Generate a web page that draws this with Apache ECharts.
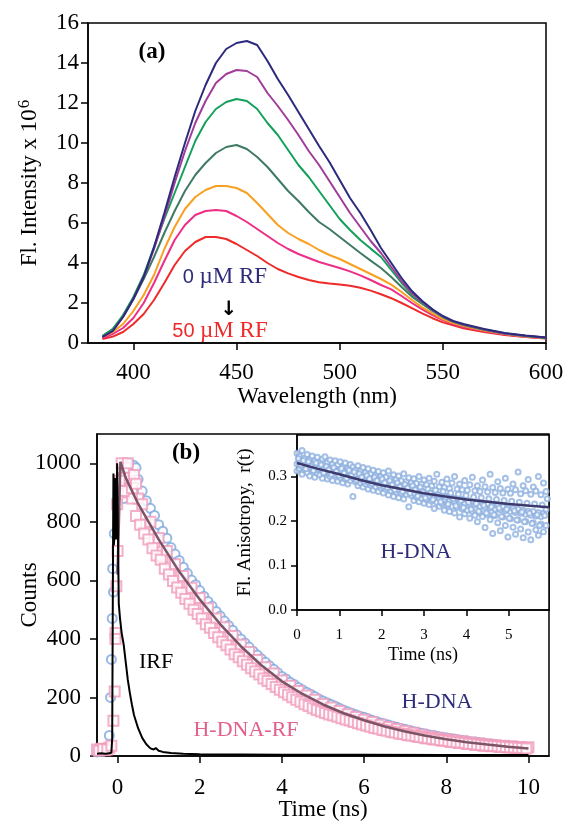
<!DOCTYPE html>
<html>
<head>
<meta charset="utf-8">
<script src="https://cdn.jsdelivr.net/npm/echarts@6/dist/echarts.min.js"></script>
<style>
html,body{margin:0;padding:0;background:#fff;}
#chart{width:565px;height:823px;}
</style>
</head>
<body>
<div id="chart"></div>
<script>
// ---------- Panel (a): emission spectra ----------
const wavelengths = [385,390,395,400,405,410,415,420,425,430,435,440,445,450,455,460,465,470,475,480,485,490,495,500,505,510,515,520,525,530,535,540,545,550,555,560,570,580,590,600];
const rf0  = [0.3,0.6,1.3,2.2,3.3,4.8,6.5,8.3,10.0,11.6,12.9,14.0,14.7,15.0,15.1,14.9,14.1,13.2,12.4,11.55,10.7,9.85,9.05,8.15,7.25,6.5,5.65,4.75,4.0,3.25,2.6,2.1,1.68,1.35,1.1,0.95,0.7,0.5,0.38,0.28];
const rfB  = [0.3,0.6,1.3,2.2,3.3,4.7,6.3,8.0,9.6,11.0,12.1,13.0,13.45,13.65,13.6,13.3,12.5,11.85,11.15,10.4,9.6,8.9,8.1,7.3,6.5,5.8,5.1,4.5,3.8,3.1,2.5,2.05,1.65,1.32,1.08,0.92,0.68,0.48,0.36,0.27];
const rfC  = [0.35,0.7,1.4,2.3,3.4,4.8,6.2,7.5,8.8,10.1,11.05,11.7,12.05,12.2,12.1,11.7,11.0,10.4,9.65,8.9,8.3,7.6,6.9,6.2,5.65,5.15,4.72,4.3,3.65,3.0,2.45,2.02,1.63,1.3,1.07,0.91,0.67,0.47,0.35,0.26];
const rfD  = [0.35,0.7,1.35,2.2,3.2,4.3,5.5,6.6,7.6,8.4,9.0,9.5,9.8,9.9,9.7,9.3,8.8,8.2,7.6,7.1,6.55,6.05,5.7,5.3,4.9,4.5,4.12,3.75,3.3,2.8,2.32,1.95,1.6,1.3,1.07,0.9,0.66,0.47,0.35,0.26];
const rfE  = [0.3,0.55,0.95,1.6,2.4,3.4,4.7,5.8,6.7,7.3,7.65,7.85,7.85,7.75,7.5,7.0,6.45,5.9,5.5,5.2,4.95,4.65,4.4,4.2,3.95,3.7,3.45,3.2,2.92,2.55,2.15,1.78,1.48,1.2,1.0,0.85,0.62,0.45,0.33,0.25];
const rfF  = [0.25,0.45,0.75,1.25,2.0,3.0,4.1,5.15,5.9,6.4,6.6,6.65,6.6,6.35,6.05,5.7,5.35,5.0,4.7,4.45,4.25,4.05,3.9,3.75,3.58,3.38,3.15,2.9,2.68,2.35,2.0,1.68,1.4,1.15,0.95,0.8,0.6,0.43,0.31,0.24];
const rf50 = [0.2,0.32,0.55,0.95,1.45,2.15,3.0,3.9,4.6,5.05,5.3,5.3,5.2,4.95,4.65,4.35,4.0,3.7,3.48,3.3,3.15,3.04,2.97,2.92,2.86,2.76,2.62,2.44,2.24,2.0,1.74,1.48,1.24,1.03,0.88,0.74,0.55,0.4,0.3,0.22];
const spectraNames  = ['0 µM','b','c','d','e','f','50 µM'];
const spectraColors = ['#2c2a7c','#a03c9b','#13a05a','#3f7a63','#f8a020','#ee2e86','#ee2a2a'];
const spectra = [rf0, rfB, rfC, rfD, rfE, rfF, rf50];
const waveTicks = [400,450,500,550,600];

// ---------- Panel (b): decays ----------
const decayStart = -0.5, decayStep = 0.1;
const hdnaCounts = [14,16,18,70,560, 870,950,985,1000,992, 945,905,872,846,822, 790,768,744,712,690, 668,645,624,601,585, 565,546,528,512,494, 478,461,446,430,414, 400,386,372,358,345, 332,320,308,296,284, 272,263,252,244,234, 226,218,211,203,195, 188,182,176,170,163, 157,151,146,141,136, 132,127,122,118,113, 109,106,102,98,94, 91,88,84,81,78, 75,72,70,67,64, 62,60,58,55,53, 51,49,48,46,44, 42,40,39,37,36, 35,33,32,30,29, 28];
const hdnaRfCounts = [22,25,20,28,120, 700,1000,985,940,960, 880,860,790,800,730, 745,680,700,630,655, 590,615,548,575,510, 540,478,505,445,470, 412,440,385,410,356, 380,330,355,305,328, 282,303,260,282,240, 258,222,240,205,222, 190,207,176,192,163, 178,152,166,141,154, 131,143,122,133,113, 124,105,116,97,107, 90,99,83,92,77, 85,71,79,66,73, 61,67,56,62,52, 58,48,54,44,50, 41,46,38,43,35, 40,33,37,31,35, 29,33,27,31,26, 30];
const rfStart2 = -0.45;
const hdnaRfCounts2 = [18,24,22,35,420, 930,950,900,880,820, 790,760,740,710,685, 670,640,620,598,576, 558,536,520,500,485, 470,450,438,420,406, 390,378,364,348,337, 324,312,300,289,278, 265,256,246,236,226, 218,209,201,192,185, 177,171,163,157,152, 147,142,138,134,129, 125,121,116,112,108, 104,100,96,93,89, 86,83,80,77,75, 72,70,68,65,63, 61,59,57,55,53, 51,49,47,46,44, 42,41,39,38,36, 35,34,33,32,31, 30,29,28,27,26];
const hdnaRise = [[-0.17,200],[-0.15,330],[-0.13,470],[-0.12,640],[-0.08,760],[0.05,900],[0.15,880],[0.25,1000],[0.45,985]];
const hdnaRfRise = [[-0.07,220],[-0.05,400],[-0.03,580],[-0.01,860],[0.05,940],[0.15,905],[0.25,1000],[0.35,915],[0.45,930]];
const irf = [[-0.5,8],[-0.4,9],[-0.3,8],[-0.2,9],[-0.15,12],[-0.13,60],[-0.11,700],[-0.1,965],[-0.09,720],[-0.07,760],[-0.05,950],[-0.03,740],[-0.01,1000],[0.01,760],[0.03,520],[0.06,470],[0.1,420],[0.15,380],[0.2,320],[0.25,260],[0.3,215],[0.35,175],[0.4,140],[0.5,95],[0.6,62],[0.7,40],[0.8,26],[0.88,22],[0.93,27],[1.0,18],[1.1,14],[1.3,10],[1.6,8],[2,6],[3,5],[4,4],[6,4],[8,3],[10,3]];
const decayFit = [[0.0,620],[0.07,1005],[0.2,950],[0.5,862],[1,740],[1.5,630],[2,535],[2.5,450],[3,375],[3.5,310],[4,255],[4.5,212],[5,176],[5.5,146],[6,122],[6.5,101],[7,84],[7.5,69],[8,57],[8.5,47],[9,39],[9.5,32],[10,26]];
const timeTicks = [0,2,4,6,8,10];
const countTicks = [0,200,400,600,800,1000];

// ---------- Inset: anisotropy ----------
const anisoStart = 0, anisoStart2 = 0.03, anisoStep = 0.06;
const anisoA = [0.352,0.345,0.358,0.341,0.349,0.338,0.346,0.335,0.343,0.332,0.339,0.344,0.331,0.337,0.328,0.335,0.326,
 0.333,0.322,0.330,0.318,0.327,0.321,0.315,0.324,0.312,0.320,0.309,0.317,0.306,0.314,0.303,0.311,0.300,
 0.308,0.298,0.312,0.296,0.304,0.293,0.301,0.290,0.306,0.288,0.297,0.286,0.295,0.284,0.300,0.283,0.292,
 0.281,0.296,0.279,0.289,0.305,0.277,0.287,0.275,0.294,0.273,0.285,0.300,0.272,0.283,0.270,0.291,0.269,
 0.281,0.298,0.268,0.279,0.266,0.292,0.277,0.265,0.305,0.275,0.264,0.288,0.273,0.263,0.296,0.271,0.262,
 0.283,0.270,0.310,0.261,0.279,0.268,0.293,0.260,0.276,0.267,0.300,0.259,0.285,0.266];
const anisoB = [0.312,0.318,0.305,0.315,0.309,0.301,0.313,0.298,0.307,0.303,0.296,0.308,0.294,0.300,0.291,0.303,0.289,
 0.297,0.286,0.294,0.283,0.291,0.255,0.288,0.279,0.285,0.276,0.283,0.272,0.280,0.269,0.277,0.266,0.274,
 0.263,0.271,0.258,0.268,0.255,0.265,0.252,0.262,0.249,0.260,0.232,0.257,0.246,0.254,0.243,0.251,0.240,
 0.248,0.237,0.245,0.228,0.242,0.233,0.239,0.224,0.236,0.221,0.233,0.218,0.230,0.209,0.227,0.216,0.224,
 0.206,0.221,0.213,0.198,0.218,0.210,0.185,0.215,0.203,0.172,0.212,0.196,0.178,0.209,0.190,0.164,0.205,
 0.186,0.170,0.202,0.182,0.162,0.199,0.175,0.158,0.196,0.180,0.168,0.193,0.176,0.190];
const anisoC = [0.328,0.333,0.322,0.330,0.325,0.319,0.327,0.320,0.315,0.324,0.318,0.312,0.321,0.314,0.309,0.316,0.306,
 0.313,0.304,0.310,0.299,0.307,0.297,0.303,0.294,0.300,0.291,0.298,0.288,0.295,0.286,0.292,0.283,0.289,
 0.278,0.286,0.276,0.283,0.273,0.280,0.271,0.277,0.268,0.275,0.266,0.272,0.262,0.270,0.260,0.267,0.258,
 0.265,0.256,0.262,0.253,0.260,0.251,0.257,0.248,0.255,0.246,0.252,0.244,0.250,0.242,0.248,0.240,0.246,
 0.238,0.244,0.236,0.242,0.233,0.240,0.231,0.238,0.229,0.236,0.227,0.234,0.225,0.232,0.223,0.230,0.221,
 0.228,0.219,0.226,0.217,0.224,0.215,0.222,0.213,0.221,0.211,0.219,0.210,0.217,0.226];
const anisoD = [0.340,0.326,0.336,0.317,0.333,0.322,0.313,0.330,0.318,0.326,0.308,0.322,0.315,0.305,0.320,0.311,0.302,
 0.318,0.307,0.296,0.314,0.303,0.310,0.292,0.306,0.298,0.289,0.302,0.295,0.284,0.298,0.291,0.280,0.294,
 0.286,0.275,0.290,0.281,0.270,0.286,0.277,0.266,0.282,0.274,0.262,0.279,0.270,0.256,0.276,0.265,0.252,
 0.272,0.262,0.248,0.269,0.258,0.243,0.266,0.254,0.238,0.263,0.250,0.234,0.260,0.246,0.230,0.257,0.242,
 0.226,0.254,0.239,0.222,0.252,0.235,0.218,0.250,0.232,0.214,0.248,0.229,0.210,0.246,0.226,0.206,0.244,
 0.223,0.202,0.242,0.220,0.198,0.240,0.217,0.194,0.238,0.214,0.190,0.236,0.212,0.250];
const anisoFit = [[0,0.330],[0.5,0.317],[1,0.305],[1.5,0.292],[2,0.280],[2.5,0.271],[3,0.262],[3.5,0.255],[4,0.248],[4.5,0.243],[5,0.238],[5.5,0.234],[5.95,0.231]];
const anisoTimeTicks = [0,1,2,3,4,5];
const anisoTicks = [0,0.1,0.2,0.3];

// ---------- build ----------
const serif = 'Liberation Serif';
const sans = 'Liberation Sans';
const seq = (start, step, arr) => arr.map((v, i) => [+(start + i * step).toFixed(3), v]);

function frameAxis(extra) {
  return Object.assign({
    axisLine: { show: true, onZero: false, lineStyle: { color: '#000', width: 1.5 } },
    splitLine: { show: false },
    minorTick: { show: false },
    nameMoveOverlap: false
  }, extra);
}

const series = [];
spectra.forEach((arr, k) => {
  series.push({
    type: 'line', name: spectraNames[k], xAxisIndex: 0, yAxisIndex: 0,
    data: wavelengths.map((w, i) => [w, arr[i]]),
    showSymbol: false, smooth: false,
    lineStyle: { color: spectraColors[k], width: 2 }, z: 10 - k
  });
});

series.push({
  type: 'scatter', name: 'H-DNA', xAxisIndex: 1, yAxisIndex: 1,
  data: seq(decayStart, decayStep, hdnaCounts).concat(hdnaRise),
  symbol: 'emptyCircle', symbolSize: 9,
  itemStyle: { color: '#7ea7de', borderWidth: 1 }, z: 2
});
series.push({
  type: 'scatter', name: 'H-DNA-RF', xAxisIndex: 1, yAxisIndex: 1,
  data: seq(decayStart, decayStep, hdnaRfCounts).concat(seq(rfStart2, decayStep, hdnaRfCounts2)).concat(hdnaRfRise),
  symbol: 'emptyRect', symbolSize: 10,
  itemStyle: { color: '#f19cbc', borderWidth: 1 }, z: 3
});
series.push({
  type: 'line', name: 'fit', xAxisIndex: 1, yAxisIndex: 1,
  data: decayFit, showSymbol: false, smooth: false,
  lineStyle: { color: '#7d5366', width: 2.5 }, z: 4
});
series.push({
  type: 'line', name: 'IRF', xAxisIndex: 1, yAxisIndex: 1,
  data: irf, showSymbol: false,
  lineStyle: { color: '#000', width: 2 }, z: 5
});

[[anisoStart, anisoA], [anisoStart, anisoB], [anisoStart, anisoC], [anisoStart2, anisoD]].forEach((pair, k) => {
  series.push({
    type: 'scatter', name: 'r' + k, xAxisIndex: 2, yAxisIndex: 2,
    data: seq(pair[0], anisoStep, pair[1]),
    symbol: 'emptyCircle', symbolSize: 5,
    itemStyle: { color: '#8fb0e0', borderWidth: 0.8 }, z: 20
  });
});
series.push({
  type: 'line', name: 'rfit', xAxisIndex: 2, yAxisIndex: 2,
  data: anisoFit, showSymbol: false, smooth: false,
  lineStyle: { color: '#3d3a6e', width: 2.5 }, z: 21
});

const chart = echarts.init(document.getElementById('chart'), null, { renderer: 'canvas' });
chart.setOption({
  animation: false,
  backgroundColor: '#fff',
  grid: [
    { left: 88, top: 23, width: 458, height: 320, containLabel: false, outerBoundsMode: 'none', show: true, borderColor: '#000', borderWidth: 1.5, backgroundColor: 'transparent' },
    { left: 97, top: 434, width: 452, height: 322, containLabel: false, outerBoundsMode: 'none', show: true, borderColor: '#000', borderWidth: 1.5, backgroundColor: 'transparent' },
    { left: 297, top: 435, width: 252, height: 175, containLabel: false, outerBoundsMode: 'none', show: true, borderColor: '#000', borderWidth: 1.5, backgroundColor: '#fff', z: 15 }
  ],
  xAxis: [
    frameAxis({ type: 'value', gridIndex: 0, min: 378, max: 600,
      axisTick: { show: true, inside: false, length: 7, customValues: waveTicks, lineStyle: { color: '#000', width: 1.5 } },
      axisLabel: { customValues: waveTicks, margin: 18, color: '#000', fontFamily: serif, fontSize: 23 },
      name: 'Wavelength (nm)', nameLocation: 'middle', nameGap: 42,
      nameTextStyle: { color: '#000', fontFamily: serif, fontSize: 23 } }),
    frameAxis({ type: 'value', gridIndex: 1, min: -0.5, max: 10.5,
      axisTick: { show: true, inside: false, length: 7, customValues: timeTicks, lineStyle: { color: '#000', width: 1.5 } },
      axisLabel: { customValues: timeTicks, margin: 20, color: '#000', fontFamily: serif, fontSize: 23 },
      name: 'Time (ns)', nameLocation: 'middle', nameGap: 42,
      nameTextStyle: { color: '#000', fontFamily: serif, fontSize: 23 } }),
    frameAxis({ type: 'value', gridIndex: 2, min: 0, max: 5.95, z: 16,
      axisTick: { show: true, inside: false, length: 6, customValues: anisoTimeTicks, lineStyle: { color: '#000', width: 1.5 } },
      axisLabel: { customValues: anisoTimeTicks, margin: 18, color: '#000', fontFamily: serif, fontSize: 15 },
      name: 'Time (ns)', nameLocation: 'middle', nameGap: 36,
      nameTextStyle: { color: '#000', fontFamily: serif, fontSize: 18 } })
  ],
  yAxis: [
    frameAxis({ type: 'value', gridIndex: 0, min: 0, max: 16, interval: 2,
      axisTick: { show: true, inside: false, length: 7, lineStyle: { color: '#000', width: 1.5 } },
      axisLabel: { margin: 9, color: '#000', fontFamily: serif, fontSize: 23 },
      name: '{m|Fl. Intensity x 10}{s|6}', nameLocation: 'middle', nameGap: 44,
      nameTextStyle: { color: '#000', fontFamily: serif, fontSize: 23,
        rich: { m: { fontFamily: serif, fontSize: 23, color: '#000' },
                s: { fontFamily: serif, fontSize: 17, color: '#000', padding: [0, 0, 11, 1] } } } }),
    frameAxis({ type: 'value', gridIndex: 1, min: 0, max: 1100,
      axisTick: { show: true, inside: false, length: 7, customValues: countTicks, lineStyle: { color: '#000', width: 1.5 } },
      axisLabel: { customValues: countTicks, margin: 16, color: '#000', fontFamily: serif, fontSize: 23,
        formatter: v => String(Math.round(v)) },
      name: 'Counts', nameLocation: 'middle', nameGap: 56,
      nameTextStyle: { color: '#000', fontFamily: serif, fontSize: 23 } }),
    frameAxis({ type: 'value', gridIndex: 2, min: 0, max: 0.393, z: 16,
      axisTick: { show: true, inside: false, length: 6, customValues: anisoTicks, lineStyle: { color: '#000', width: 1.5 } },
      axisLabel: { customValues: anisoTicks, margin: 10, color: '#000', fontFamily: serif, fontSize: 15,
        formatter: v => v.toFixed(1) },
      name: 'Fl. Anisotropy,  r(t)', nameLocation: 'middle', nameGap: 42,
      nameTextStyle: { color: '#000', fontFamily: serif, fontSize: 19 } })
  ],
  series: series,
  graphic: [
    { type: 'text', x: 152, y: 52, z: 50, style: { text: '(a)', fill: '#000', font: 'bold 23px "Liberation Serif"', align: 'center', verticalAlign: 'middle' } },
    { type: 'text', x: 186, y: 453, z: 50, style: { text: '(b)', fill: '#000', font: 'bold 23px "Liberation Serif"', align: 'center', verticalAlign: 'middle' } },
    { type: 'text', x: 225, y: 277, z: 50, style: { text: '{a|0 }{b|µM RF}', align: 'center', verticalAlign: 'middle',
        rich: { a: { fontFamily: sans, fontSize: 20, fill: '#2e2b7a', color: '#2e2b7a' }, b: { fontFamily: serif, fontSize: 23, fill: '#2e2b7a', color: '#2e2b7a' } } } },
    { type: 'text', x: 229, y: 310, z: 50, style: { text: '↓', fill: '#000', font: 'bold 20px "DejaVu Sans"', align: 'center', verticalAlign: 'middle' } },
    { type: 'text', x: 220, y: 331, z: 50, style: { text: '{a|50 }{b|µM RF}', align: 'center', verticalAlign: 'middle',
        rich: { a: { fontFamily: sans, fontSize: 20, fill: '#ee2a2a', color: '#ee2a2a' }, b: { fontFamily: serif, fontSize: 23, fill: '#ee2a2a', color: '#ee2a2a' } } } },
    { type: 'text', x: 156, y: 662, z: 50, style: { text: 'IRF', fill: '#000', font: '22px "Liberation Serif"', align: 'center', verticalAlign: 'middle' } },
    { type: 'text', x: 246, y: 730, z: 50, style: { text: 'H-DNA-RF', fill: '#e0608e', font: '22px "Liberation Serif"', align: 'center', verticalAlign: 'middle' } },
    { type: 'text', x: 437, y: 702, z: 50, style: { text: 'H-DNA', fill: '#2e2c7a', font: '22px "Liberation Serif"', align: 'center', verticalAlign: 'middle' } },
    { type: 'text', x: 416, y: 552, z: 50, style: { text: 'H-DNA', fill: '#2e2c7a', font: '22px "Liberation Serif"', align: 'center', verticalAlign: 'middle' } }
  ]
});
</script>
</body>
</html>
